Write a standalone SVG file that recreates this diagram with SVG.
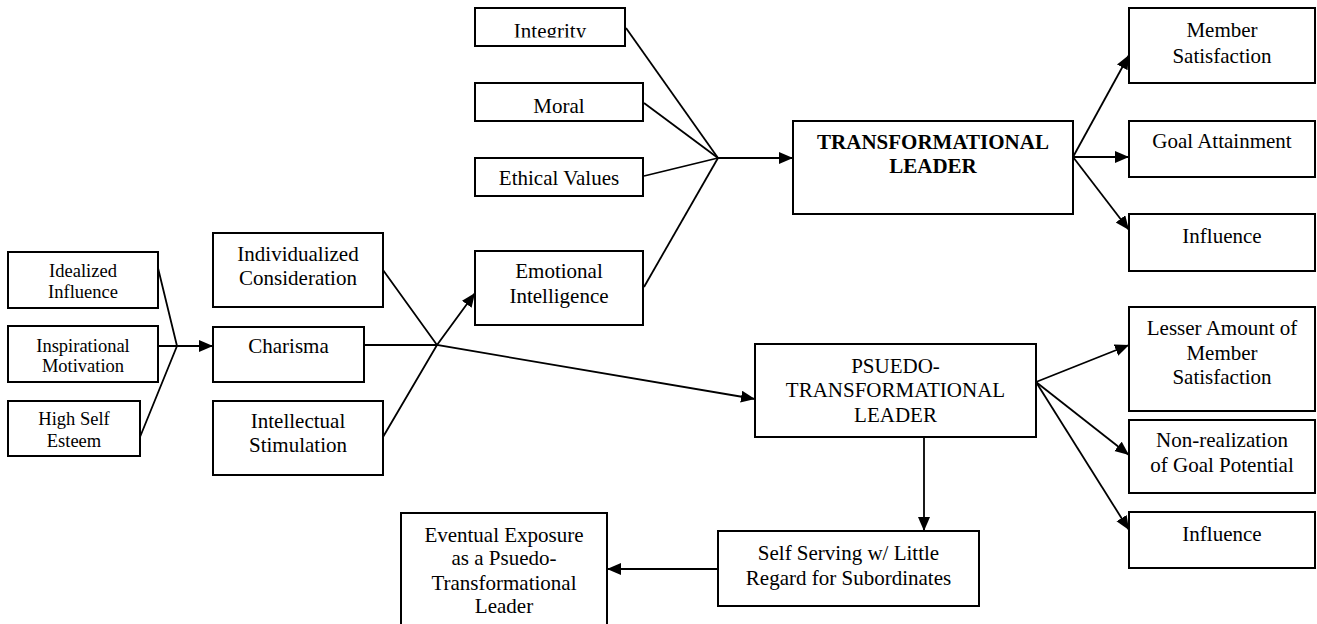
<svg xmlns="http://www.w3.org/2000/svg" width="1317" height="624" viewBox="0 0 1317 624">
<style>
  rect.box { fill: #fff; stroke: #000; stroke-width: 2; }
  text { font-family: "Liberation Serif", "Times New Roman", serif; font-size: 21px; fill: #000; text-anchor: middle; }
  text.sm { font-size: 18.5px; }
  text.b { font-weight: bold; }
  .conn path, .conn line, .conn polyline { fill: none; stroke: #000; stroke-width: 1.8; }
</style>
<defs>
  <marker id="ah" markerUnits="userSpaceOnUse" markerWidth="15" markerHeight="13" refX="14" refY="6" orient="auto">
    <path d="M0,0 L14,6 L0,12 z" fill="#000"/>
  </marker>
  <clipPath id="clipInt"><rect x="475" y="8" width="150" height="29.5"/></clipPath>
</defs>
<rect width="1317" height="624" fill="#fff"/>

<g class="conn" id="connectors">
  <polyline points="158,268 177,346 140,437"/>
  <line x1="158" y1="346" x2="213" y2="346" marker-end="url(#ah)"/>
  <polyline points="383,270 437,345 755,399" marker-end="url(#ah)"/>
  <line x1="364" y1="345" x2="437" y2="345"/>
  <polyline points="383,437 437,345 475,293" marker-end="url(#ah)"/>
  <line x1="626" y1="28" x2="718" y2="158"/>
  <line x1="644" y1="103" x2="718" y2="158"/>
  <line x1="644" y1="176" x2="718" y2="158"/>
  <line x1="644" y1="287" x2="718" y2="158"/>
  <line x1="718" y1="158" x2="793" y2="158" marker-end="url(#ah)"/>
  <line x1="1073" y1="157" x2="1129" y2="55" marker-end="url(#ah)"/>
  <line x1="1073" y1="157" x2="1129" y2="157" marker-end="url(#ah)"/>
  <line x1="1073" y1="157" x2="1129" y2="230" marker-end="url(#ah)"/>
  <line x1="1036" y1="382" x2="1129" y2="345" marker-end="url(#ah)"/>
  <line x1="1036" y1="382" x2="1129" y2="455" marker-end="url(#ah)"/>
  <line x1="1036" y1="382" x2="1129" y2="530" marker-end="url(#ah)"/>
  <line x1="924" y1="437" x2="924" y2="531" marker-end="url(#ah)"/>
  <line x1="718" y1="569" x2="607" y2="569" marker-end="url(#ah)"/>
</g>

<g id="idealized"><rect class="box" x="8" y="252" width="150" height="56"/>
  <text class="sm" x="83" y="277">Idealized</text><text class="sm" x="83" y="298">Influence</text></g>
<g id="inspirational"><rect class="box" x="8" y="326" width="150" height="56"/>
  <text class="sm" x="83" y="352">Inspirational</text><text class="sm" x="83" y="372">Motivation</text></g>
<g id="highself"><rect class="box" x="8" y="401" width="132" height="55"/>
  <text class="sm" x="74" y="425">High Self</text><text class="sm" x="74" y="447">Esteem</text></g>

<g id="individualized"><rect class="box" x="213" y="233" width="170" height="74"/>
  <text x="298" y="261">Individualized</text><text x="298" y="285">Consideration</text></g>
<g id="charisma"><rect class="box" x="213" y="327" width="151" height="55"/>
  <text x="288.5" y="353">Charisma</text></g>
<g id="intellectual"><rect class="box" x="213" y="401" width="170" height="74"/>
  <text x="298" y="428">Intellectual</text><text x="298" y="452">Stimulation</text></g>

<g id="integrity"><rect class="box" x="475" y="8" width="150" height="38"/>
  <text x="550" y="37.5" clip-path="url(#clipInt)">Integrity</text></g>
<g id="moral"><rect class="box" x="475" y="83" width="168" height="38"/>
  <text x="559" y="113">Moral</text></g>
<g id="ethical"><rect class="box" x="475" y="158" width="168" height="38"/>
  <text x="559" y="185">Ethical Values</text></g>
<g id="emotional"><rect class="box" x="475" y="251" width="168" height="74"/>
  <text x="559" y="278">Emotional</text><text x="559" y="303">Intelligence</text></g>

<g id="transformational"><rect class="box" x="793" y="121" width="280" height="93"/>
  <text class="b" x="933" y="149">TRANSFORMATIONAL</text><text class="b" x="933" y="173">LEADER</text></g>

<g id="member"><rect class="box" x="1129" y="8" width="186" height="75"/>
  <text x="1222" y="37">Member</text><text x="1222" y="63">Satisfaction</text></g>
<g id="goal"><rect class="box" x="1129" y="121" width="186" height="56"/>
  <text x="1222" y="148">Goal Attainment</text></g>
<g id="influence1"><rect class="box" x="1129" y="214" width="186" height="57"/>
  <text x="1222" y="243">Influence</text></g>

<g id="pseudo"><rect class="box" x="755" y="344" width="281" height="93"/>
  <text x="895.5" y="373">PSUEDO-</text><text x="895.5" y="397">TRANSFORMATIONAL</text><text x="895.5" y="422">LEADER</text></g>

<g id="lesser"><rect class="box" x="1129" y="307" width="186" height="104"/>
  <text x="1222" y="335">Lesser Amount of</text><text x="1222" y="360">Member</text><text x="1222" y="384">Satisfaction</text></g>
<g id="nonreal"><rect class="box" x="1129" y="420" width="186" height="73"/>
  <text x="1222" y="447">Non-realization</text><text x="1222" y="472">of Goal Potential</text></g>
<g id="influence2"><rect class="box" x="1129" y="512" width="186" height="56"/>
  <text x="1222" y="541">Influence</text></g>

<g id="selfserving"><rect class="box" x="718" y="531" width="261" height="75"/>
  <text x="848.5" y="560">Self Serving w/ Little</text><text x="848.5" y="585">Regard for Subordinates</text></g>
<g id="eventual"><rect class="box" x="401" y="513" width="206" height="125"/>
  <text x="504" y="542">Eventual Exposure</text><text x="504" y="565">as a Psuedo-</text><text x="504" y="590">Transformational</text><text x="504" y="613">Leader</text></g>
</svg>
